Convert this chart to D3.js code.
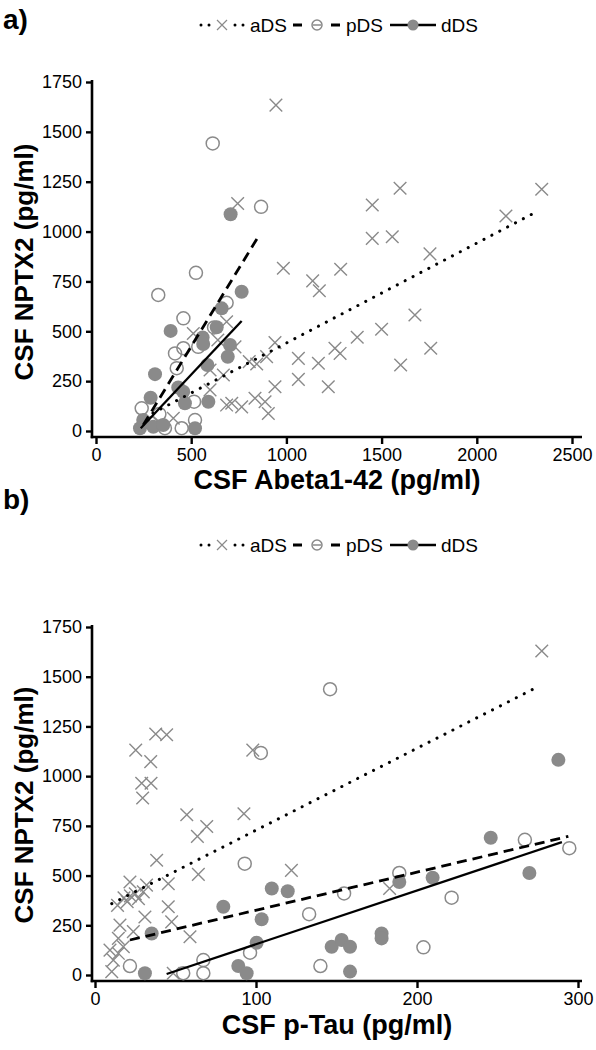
<!DOCTYPE html>
<html><head><meta charset="utf-8">
<script src="https://cdn.jsdelivr.net/npm/d3@7"></script>
<style>body{margin:0;background:#fff}svg{display:block}text{font-family:"Liberation Sans",Arial,sans-serif}</style>
</head><body>
<svg id="c" width="596" height="1050"></svg>
<script>
// ---------- data ----------
const seriesNames = ["aDS","pDS","dDS"];
const xTicksA = [0,500,1000,1500,2000,2500];
const xTicksB = [0,100,200,300];
const yTicks = [0,250,500,750,1000,1250,1500,1750];

// Panel a: CSF Abeta1-42 (x) vs CSF NPTX2 (y)
const aDS_abeta = [[945,1634],[744,1141],[984,816],[1138,753],[1173,703],[1285,811],[940,443],[1063,364],[1168,340],[1255,415],[1282,389],[805,348],[844,336],[896,373],[940,222],[1063,259],[1220,222],[686,130],[713,139],[765,121],[835,164],[888,147],[905,88],[686,548],[511,489],[730,422],[599,306],[669,281],[599,206],[406,64],[640,456],[1597,1217],[1451,1133],[1451,966],[1556,974],[1754,888],[2153,1078],[2341,1212],[1675,582],[1500,510],[1372,470],[1758,415],[1600,331]];
const pDS_abeta = [[613,1442],[867,1124],[525,793],[327,682],[686,643],[459,565],[620,519],[537,422],[459,415],[415,389],[424,315],[240,114],[333,85],[515,147],[520,55],[450,14],[362,14],[290,39]];
const dDS_abeta = [[707,1087],[765,698],[660,615],[634,520],[392,502],[560,469],[563,436],[704,431],[692,372],[585,331],[310,285],[432,218],[458,197],[287,167],[467,139],[590,147],[248,55],[231,14],[301,21],[353,30],[520,14]];
const fitA_aDS = [[299,90],[2321,1103]];
const fitA_pDS = [[248,30],[852,974]];
const fitA_dDS = [[235,14],[765,552]];

// Panel b: CSF p-Tau (x) vs CSF NPTX2 (y)
const aDS_ptau = [[98,1131],[37.7,1212],[44.5,1208],[25.3,1131],[34.6,1073],[29,964],[34.8,964],[29.6,890],[57,806],[92.5,811],[69.4,747],[63.6,697],[38.3,577],[122,526],[64.2,506],[21.7,468],[32,452],[45.5,459],[45.5,343],[31,292],[47.6,267],[15.5,251],[59,192],[23.8,218],[9.3,125],[14.5,109],[17.6,142],[11.4,75],[10.4,17],[48.6,9],[14.5,184],[18,388],[22,398],[25,408],[20,369],[27,384],[30,418],[14,350],[183,435],[277.5,1629]];
const pDS_ptau = [[146,1437],[103,1117],[93,560],[21.7,45],[67.3,75],[67.3,9],[54.8,9],[96.3,112],[133,306],[140,45],[154.7,410],[189,513],[221.5,389],[267,680],[294.6,638],[204,139]];
const dDS_ptau = [[35.2,209],[79.7,343],[103.5,280],[109.8,435],[119.7,421],[100.4,162],[31,9],[89,45],[94.2,9],[147,142],[153.2,176],[158.4,142],[158.4,17],[189,468],[209.7,489],[245.8,690],[269.8,513],[178,209],[178,184],[287.8,1082]];
const fitB_aDS = [[10.4,359],[274,1445]];
const fitB_pDS = [[21.7,176],[294,697]];
const fitB_dDS = [[44.5,5],[290,668]];

// ---------- drawing ----------
const svg = d3.select("#c");
const GREY = "#8a8a8a";

function xMark(g, x, y, s, w){
  g.append("path").attr("d",`M${x-s},${y-s}L${x+s},${y+s}M${x-s},${y+s}L${x+s},${y-s}`)
   .attr("stroke",GREY).attr("stroke-width",w||1.4).attr("fill","none");
}
function oMark(g,x,y,r){ g.append("circle").attr("cx",x).attr("cy",y).attr("r",r).attr("fill","none").attr("stroke",GREY).attr("stroke-width",1.5); }
function fMark(g,x,y,r){ g.append("circle").attr("cx",x).attr("cy",y).attr("r",r).attr("fill",GREY); }

function styleLine(sel, name){
  sel.attr("stroke","#000").attr("fill","none");
  if(name==="aDS") sel.attr("stroke-width",3).attr("stroke-linecap","round").attr("stroke-dasharray","0.1 8.8");
  else if(name==="pDS") sel.attr("stroke-width",2.8).attr("stroke-dasharray","10 6");
  else sel.attr("stroke-width",2.3);
  return sel;
}

function panel(cfg){
  const g = svg.append("g");
  const x = d3.scaleLinear().domain(cfg.xDomain).range(cfg.xRange);
  const y = d3.scaleLinear().domain([0,1750]).range(cfg.yRange);
  g.append("text").attr("x",3).attr("y",cfg.labelY).attr("font-size",28).attr("font-weight","bold").text(cfg.label);
  // legend
  const ly = cfg.legendY;
  const leg = g.append("g");
  [201,209,235,243].forEach(cx=>leg.append("circle").attr("cx",cx).attr("cy",ly).attr("r",1.5).attr("fill","#000"));
  xMark(leg,222,ly,5,1.2);
  leg.append("text").attr("x",250).attr("y",ly+7).attr("font-size",19).text(seriesNames[0]);
  leg.append("line").attr("x1",293).attr("x2",302).attr("y1",ly).attr("y2",ly).attr("stroke","#000").attr("stroke-width",3);
  leg.append("line").attr("x1",331).attr("x2",340).attr("y1",ly).attr("y2",ly).attr("stroke","#000").attr("stroke-width",3);
  oMark(leg,317,ly,5);
  leg.append("line").attr("x1",313).attr("x2",321).attr("y1",ly).attr("y2",ly).attr("stroke",GREY).attr("stroke-width",1.5);
  leg.append("text").attr("x",346).attr("y",ly+7).attr("font-size",19).text(seriesNames[1]);
  leg.append("line").attr("x1",390).attr("x2",436).attr("y1",ly).attr("y2",ly).attr("stroke","#000").attr("stroke-width",2.5);
  fMark(leg,413,ly,5.5);
  leg.append("text").attr("x",441).attr("y",ly+7).attr("font-size",19).text(seriesNames[2]);
  // axes
  const ax0 = cfg.axisX, ay0 = cfg.axisY;
  g.append("line").attr("x1",ax0).attr("x2",ax0).attr("y1",cfg.yRange[1]-2).attr("y2",ay0+1.3).attr("stroke","#000").attr("stroke-width",2.6);
  g.append("line").attr("x1",ax0-1.3).attr("x2",cfg.xAxisEnd).attr("y1",ay0).attr("y2",ay0).attr("stroke","#000").attr("stroke-width",2.6);
  const yA = g.append("g").attr("transform",`translate(${ax0},0)`)
    .call(d3.axisLeft(y).tickValues(yTicks).tickSize(6).tickPadding(4).tickFormat(d3.format("d")));
  yA.select(".domain").remove();
  yA.selectAll("line").attr("stroke","#000").attr("stroke-width",2.4);
  yA.selectAll("text").attr("font-size",18).attr("font-family","Liberation Sans, Arial").attr("fill","#000");
  const xA = g.append("g").attr("transform",`translate(0,${ay0})`)
    .call(d3.axisBottom(x).tickValues(cfg.xTicks).tickSize(7).tickPadding(4).tickFormat(d3.format("d")));
  xA.select(".domain").remove();
  xA.selectAll("line").attr("stroke","#000").attr("stroke-width",2.4);
  xA.selectAll("text").attr("font-size",18).attr("font-family","Liberation Sans, Arial").attr("fill","#000");
  // titles
  g.append("text").attr("transform",`translate(${cfg.yTitleX},${cfg.yTitleY}) rotate(-90)`).attr("text-anchor","middle")
    .attr("font-size",26).attr("font-weight","bold").text("CSF NPTX2 (pg/ml)");
  g.append("text").attr("x",cfg.xTitleX).attr("y",cfg.xTitleY).attr("text-anchor","middle")
    .attr("font-size",27).attr("font-weight","bold").text(cfg.xTitle);
  // points
  const pg = g.append("g");
  cfg.a.forEach(d=>xMark(pg,x(d[0]),y(d[1]),6.3));
  cfg.p.forEach(d=>oMark(pg,x(d[0]),y(d[1]),6.5));
  cfg.d.forEach(d=>fMark(pg,x(d[0]),y(d[1]),7));
  // fit lines
  const line = d3.line().x(d=>x(d[0])).y(d=>y(d[1]));
  [["aDS",cfg.fa],["pDS",cfg.fp],["dDS",cfg.fd]].forEach(([n,pts])=>{
    styleLine(g.append("path").attr("d",line(pts)),n);
  });
}

panel({label:"a)",labelY:29,legendY:25,xDomain:[0,2500],xRange:[96,572],yRange:[431,82],axisX:92,axisY:437,xAxisEnd:582,
  xTicks:xTicksA,xTitle:"CSF Abeta1-42 (pg/ml)",xTitleX:337,xTitleY:489,yTitleX:33,yTitleY:262,
  a:aDS_abeta,p:pDS_abeta,d:dDS_abeta,fa:fitA_aDS,fp:fitA_pDS,fd:fitA_dDS});
panel({label:"b)",labelY:509,legendY:545,xDomain:[0,300],xRange:[95,578],yRange:[975,627],axisX:92,axisY:981,xAxisEnd:582,
  xTicks:xTicksB,xTitle:"CSF p-Tau (pg/ml)",xTitleX:337,xTitleY:1034,yTitleX:33,yTitleY:805,
  a:aDS_ptau,p:pDS_ptau,d:dDS_ptau,fa:fitB_aDS,fp:fitB_pDS,fd:fitB_dDS});
</script>
</body></html>
